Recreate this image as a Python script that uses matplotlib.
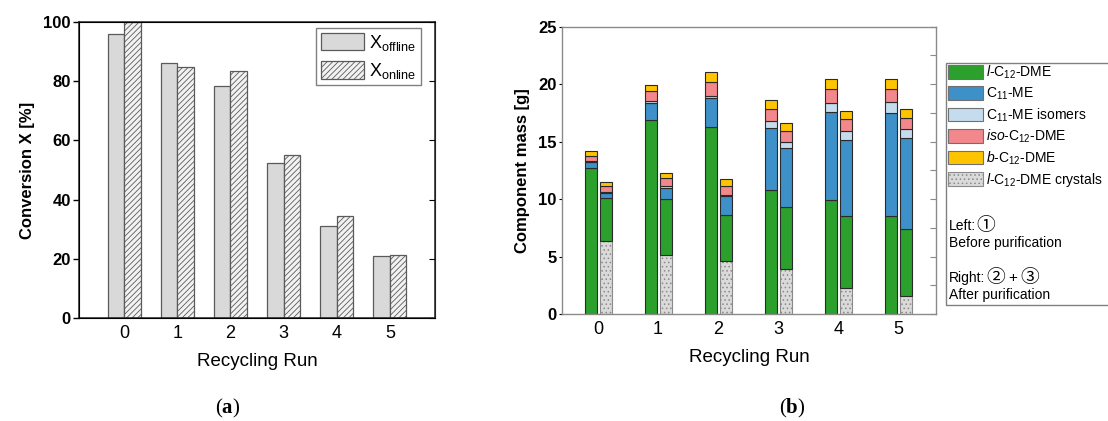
import matplotlib
matplotlib.use('Agg')
import matplotlib.pyplot as plt
import numpy as np
from matplotlib.patches import Patch, Rectangle

plt.rcParams['font.family'] = ['Liberation Sans', 'DejaVu Sans']
plt.rcParams['mathtext.fontset'] = 'custom'
plt.rcParams['mathtext.rm'] = 'Liberation Sans'
plt.rcParams['mathtext.it'] = 'Liberation Sans:italic'
plt.rcParams['mathtext.bf'] = 'Liberation Serif:bold'
plt.rcParams['hatch.linewidth'] = 0.6

# ---- data: panel (a)
runs = [0, 1, 2, 3, 4, 5]
x_offline = [96.0, 86.3, 78.3, 52.2, 31.2, 20.8]
x_online = [100.0, 84.7, 83.6, 55.0, 34.3, 21.3]

# ---- data: panel (b), left bar = before purification
before_l_c12 = [12.70, 16.85, 16.27, 10.82, 9.92, 8.56]
before_c11 = [0.50, 1.51, 2.49, 5.36, 7.66, 8.93]
before_c11_iso = [0.08, 0.20, 0.18, 0.58, 0.78, 0.98]
before_iso_c12 = [0.44, 0.81, 1.22, 1.08, 1.22, 1.11]
before_b_c12 = [0.43, 0.53, 0.94, 0.75, 0.90, 0.87]

# right bar = after purification
after_crystals = [6.32, 5.16, 4.58, 3.92, 2.23, 1.60]
after_l_c12 = [3.77, 4.84, 4.06, 5.39, 6.27, 5.80]
after_c11 = [0.44, 0.96, 1.60, 5.16, 6.67, 7.91]
after_c11_iso = [0.11, 0.14, 0.14, 0.47, 0.75, 0.79]
after_iso_c12 = [0.46, 0.70, 0.79, 0.95, 1.05, 0.95]
after_b_c12 = [0.38, 0.44, 0.58, 0.73, 0.72, 0.82]

labels_b = [r'$\mathit{l}$-C$_{12}$-DME', 'C$_{11}$-ME', 'C$_{11}$-ME isomers',
            r'$\mathit{iso}$-C$_{12}$-DME', r'$\mathit{b}$-C$_{12}$-DME',
            r'$\mathit{l}$-C$_{12}$-DME crystals']
colors_b = ['#2CA02C', '#3E91C8', '#C5DCEE', '#F2878C', '#FFC400', '#DADADA']

W, H = 1108, 421
fig = plt.figure(figsize=(W / 100, H / 100), dpi=100)

def fbox(x0, y0, x1, y1):
    return [x0 / W, 1 - y1 / H, (x1 - x0) / W, (y1 - y0) / H]

# ================= panel (a)
ax = fig.add_axes(fbox(79, 22, 435, 318))
x = np.array(runs)
ax.bar(x - 0.155, x_offline, 0.31, color='#D9D9D9', edgecolor='#5A5A5A', lw=0.9,
       label=r'X$_{\mathrm{offline}}$')
ax.bar(x + 0.155, x_online, 0.31, color='#F2F2F2', edgecolor='#5A5A5A', lw=0.9,
       hatch='//////', label=r'X$_{\mathrm{online}}$')
ax.set_xlim(-0.85, 5.85)
ax.set_ylim(0, 100)
ax.set_yticks([0, 20, 40, 60, 80, 100])
ax.set_xticks(runs)
ax.tick_params(axis='x', length=0, labelsize=13, pad=5)
ax.tick_params(axis='y', length=4, width=1, direction='out', labelsize=12, pad=2)
for lab in ax.get_yticklabels():
    lab.set_fontweight('bold')
ax.set_ylabel('Conversion X [%]', fontsize=12, fontweight='bold', labelpad=6)
ax.set_xlabel('Recycling Run', fontsize=13.5, labelpad=8)
for s in ax.spines.values():
    s.set_color('#222222')
    s.set_linewidth(1.1)
axr = ax.twinx()
axr.set_ylim(0, 100)
axr.set_yticks([0, 20, 40, 60, 80, 100])
axr.tick_params(axis='y', direction='in', length=4, labelright=False)
axr.spines['right'].set_color('#222222')

fig.legend(loc='upper left', bbox_to_anchor=(316 / W, 1 - 28 / H),
           bbox_transform=fig.transFigure, fontsize=13, handlelength=2.4,
           handleheight=1.15, labelspacing=0.45, handletextpad=0.3,
           borderpad=0.25, borderaxespad=0, fancybox=False,
           edgecolor='#808080', framealpha=1, handles=ax.get_legend_handles_labels()[0])

# ================= panel (b)
bx = fig.add_axes(fbox(562, 26.7, 936, 314))
off_l, off_r, bw = -0.115, 0.125, 0.2

bottom = np.zeros(len(runs))
for vals, c in zip([before_l_c12, before_c11, before_c11_iso, before_iso_c12, before_b_c12],
                   colors_b[:5]):
    bx.bar(x + off_l, vals, bw, bottom=bottom, color=c, edgecolor='#2A2A2A', lw=0.8)
    bottom += np.array(vals)

bottom = np.zeros(len(runs))
bx.bar(x + off_r, after_crystals, bw, color=colors_b[5], edgecolor='#8A8A8A', lw=0.8,
       hatch='....')
bottom += np.array(after_crystals)
for vals, c in zip([after_l_c12, after_c11, after_c11_iso, after_iso_c12, after_b_c12],
                   colors_b[:5]):
    bx.bar(x + off_r, vals, bw, bottom=bottom, color=c, edgecolor='#2A2A2A', lw=0.8)
    bottom += np.array(vals)

bx.set_xlim(-0.6, 5.63)
bx.set_ylim(0, 25)
bx.set_yticks([0, 5, 10, 15, 20, 25])
bx.set_xticks(runs)
bx.tick_params(axis='x', length=0, labelsize=13, pad=5)
bx.tick_params(axis='y', length=2, direction='out', labelsize=12, pad=2)
for lab in bx.get_yticklabels():
    lab.set_fontweight('bold')
bx.set_ylabel('Component mass [g]', fontsize=12, fontweight='bold', labelpad=6)
bx.set_xlabel('Recycling Run', fontsize=13.5, labelpad=8)
for s in bx.spines.values():
    s.set_color('#8A8A8A')
    s.set_linewidth(1.0)
bxr = bx.twinx()
bxr.set_ylim(0, 25)
bxr.set_yticks(np.arange(0, 25.1, 2.5))
bxr.tick_params(axis='y', direction='in', length=4, labelright=False, color='#8A8A8A')
for s in bxr.spines.values():
    s.set_visible(False)

handles = [Patch(facecolor=c, edgecolor='#707070', lw=0.8) for c in colors_b[:5]]
handles.append(Patch(facecolor=colors_b[5], edgecolor='#8A8A8A', lw=0.8, hatch='....'))
fig.legend(handles, labels_b, loc='upper left', bbox_to_anchor=(948 / W, 1 - 64 / H),
           bbox_transform=fig.transFigure, fontsize=10, frameon=False,
           handlelength=2.5, handleheight=1.15, labelspacing=0.3,
           handletextpad=0.25, borderpad=0, borderaxespad=0)
fig.patches.append(Rectangle((946 / W, 1 - 305 / H), 200 / W, 242 / H,
                             transform=fig.transFigure, fill=False,
                             edgecolor='#808080', lw=1.0))
note_kw = dict(fontsize=10, ha='left', va='center')
circ_kw = dict(fontsize=13.5, ha='left', va='center', family='Noto Sans CJK JP')
fig.text(949 / W, 1 - 226 / H, 'Left:', **note_kw)
fig.text(976 / W, 1 - 226 / H, '\u2460', **circ_kw)
fig.text(949 / W, 1 - 243 / H, 'Before purification', **note_kw)
fig.text(949 / W, 1 - 278 / H, 'Right:', **note_kw)
fig.text(986 / W, 1 - 278 / H, '\u2461', **circ_kw)
fig.text(1008 / W, 1 - 278 / H, '+', fontsize=11, ha='left', va='center')
fig.text(1020 / W, 1 - 278 / H, '\u2462', **circ_kw)
fig.text(949 / W, 1 - 295 / H, 'After purification', **note_kw)

# captions
cap_kw = dict(fontsize=15, ha='center', va='center', family='Liberation Serif')
fig.text(228 / W, 1 - 408 / H, r'($\mathbf{a}$)', **cap_kw)
fig.text(792 / W, 1 - 408 / H, r'($\mathbf{b}$)', **cap_kw)

fig.savefig('out.png', dpi=100)
